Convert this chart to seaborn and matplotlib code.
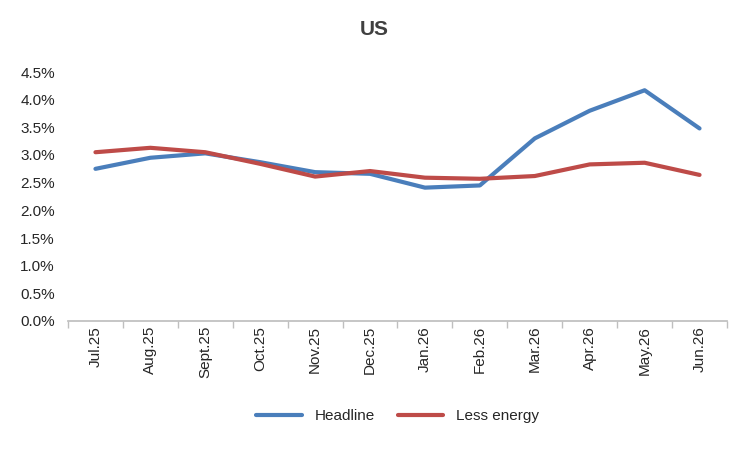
import matplotlib
matplotlib.use("Agg")
import matplotlib.pyplot as plt
import seaborn as sns
import pandas as pd
from matplotlib.ticker import PercentFormatter

meses = ["Jul.25", "Aug.25", "Sept.25", "Oct.25", "Nov.25", "Dec.25",
         "Jan.26", "Feb.26", "Mar.26", "Apr.26", "May.26", "Jun.26"]
headline = [2.75, 2.95, 3.03, 2.87, 2.69, 2.66, 2.41, 2.45, 3.30, 3.80, 4.17, 3.48]
less_energy = [3.05, 3.13, 3.05, 2.84, 2.61, 2.71, 2.59, 2.57, 2.62, 2.83, 2.86, 2.64]

sns.set_theme(style="white")
plt.rcParams["font.family"] = ["Liberation Sans", "DejaVu Sans"]

df = pd.DataFrame({"mes": meses * 2,
                   "valor": headline + less_energy,
                   "serie": ["Headline"] * 12 + ["Less energy"] * 12})

fig = plt.figure(figsize=(7.49, 4.5), dpi=100)
ax = fig.add_axes([68 / 749, 1 - 321 / 450, (727 - 68) / 749, (321 - 72) / 450])
sns.lineplot(data=df, x="mes", y="valor", hue="serie", sort=False,
             palette={"Headline": "#4A7EBB", "Less energy": "#BE4B48"},
             linewidth=3, ax=ax)

ax.set_ylim(0, 4.5)
ax.set_yticks([i * 0.5 for i in range(10)])
ax.yaxis.set_major_formatter(PercentFormatter(decimals=1))
ax.set_xlim(-0.5, 11.5)
ax.set_xlabel("")
ax.set_ylabel("")
ax.tick_params(axis="x", rotation=90, labelsize=11, direction="out", bottom=True, color="#BFBFBF")
ax.tick_params(axis="y", labelsize=11, left=False)
for s in ["top", "right", "left"]:
    ax.spines[s].set_visible(False)
ax.spines["bottom"].set_color("#BFBFBF")
ax.set_xticks([i - 0.5 for i in range(13)], minor=True)
ax.tick_params(axis="x", which="minor", length=5, bottom=True, color="#BFBFBF")
ax.tick_params(axis="x", which="major", length=0)

fig.suptitle("US", y=0.955, fontsize=15, fontweight="bold", color="#404040")
ax.legend(loc="upper center", bbox_to_anchor=(0.5, -0.3), ncol=2, frameon=False,
          fontsize=11, handlelength=3, columnspacing=1.5)

fig.savefig("out.png", dpi=100)
